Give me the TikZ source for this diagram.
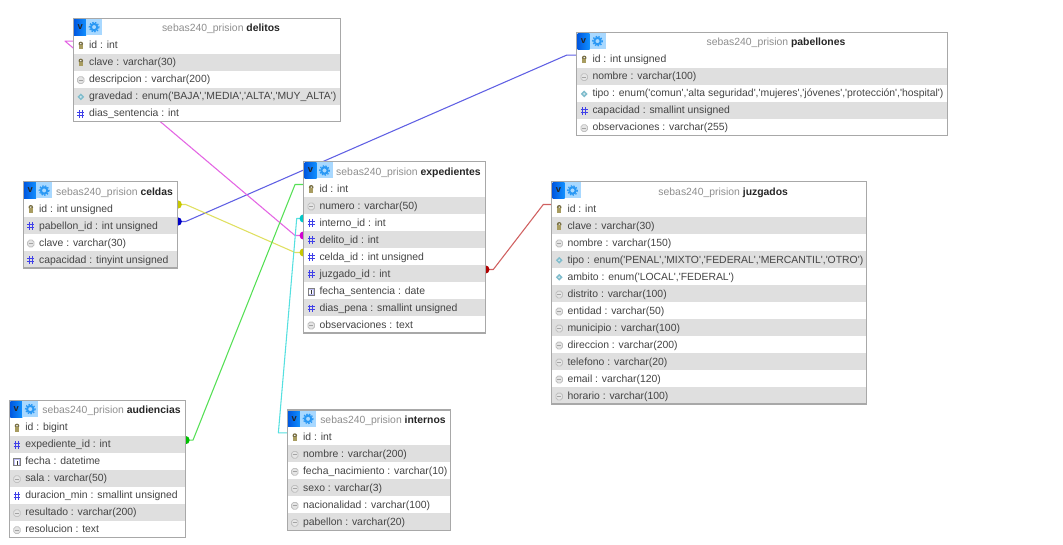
\documentclass[tikz,border=0pt]{standalone}
\usepackage{fontspec}
\newfontfamily\dbfont{Liberation Sans}
\pgfdeclarelayer{bg}
\pgfsetlayers{bg,main}
\definecolor{rowgray}{HTML}{DFDFDF}
\definecolor{boxgray}{HTML}{A8A8A8}
\definecolor{titlegray}{HTML}{8E8E8E}
\definecolor{txt}{HTML}{444444}
\definecolor{keycol}{HTML}{A89C60}
\definecolor{enumcol}{HTML}{7FBCCC}
\definecolor{numcol}{HTML}{4040E8}
\definecolor{fieldcol}{HTML}{C0C0C0}
\definecolor{gearbg}{HTML}{A8D8FF}
\definecolor{gearfg}{HTML}{2A98F4}
\definecolor{vleft}{HTML}{0058E0}
\definecolor{vright}{HTML}{1090FF}
\definecolor{blueL}{HTML}{6060E4}\definecolor{blueD}{HTML}{0000C8}
\definecolor{yelL}{HTML}{E0E060}\definecolor{yelD}{HTML}{C8C800}
\definecolor{magL}{HTML}{E465E4}\definecolor{magD}{HTML}{D000D0}
\definecolor{greL}{HTML}{55E055}\definecolor{greD}{HTML}{00C000}
\definecolor{cyaL}{HTML}{55E0E0}\definecolor{cyaD}{HTML}{00C8C8}
\definecolor{redL}{HTML}{D06060}\definecolor{redD}{HTML}{B00000}
\tikzset{
  rowband/.style={rectangle,inner sep=0pt,outer sep=0pt,anchor=north west,minimum height=12.75pt},
  rowtext/.style={inner sep=0pt,outer sep=0pt,anchor=base west,text=txt,font=\dbfont\fontsize{7.8pt}{9pt}\selectfont},
  titletext/.style={inner sep=0pt,outer sep=0pt,anchor=base,text=titlegray,font=\dbfont\fontsize{7.8pt}{9pt}\selectfont},
  tablebox/.style={rectangle,inner sep=0pt,outer sep=0pt,anchor=north west,draw=boxgray,line width=0.8pt},
  vicon/.style={rectangle,inner sep=0pt,outer sep=0pt,anchor=north west,minimum width=9pt,minimum height=12pt,left color=vleft,right color=vright,text=black!85,font=\dbfont\bfseries\fontsize{7pt}{8pt}\selectfont},
  gearicon/.style={rectangle,inner sep=0pt,outer sep=0pt,anchor=north west,minimum width=12pt,minimum height=12pt,fill=gearbg},
  link/.style={line width=0.8pt,line join=round},
}
\newcount\rowno
\newcommand\dbhead[5]{%
  \gdef\dbN{#1}\gdef\dbL{#2}\gdef\dbT{#3}\gdef\dbR{#4}%
  \global\rowno=0
  \node[vicon] (#1-v) at (#2+0.8,#3+0.8) {v};
  \node[gearicon] (#1-gear) at (#2+12.8,#3+0.8) {};
  \draw[gearfg,line width=1.5pt] (#1-gear.center) circle (3.2);
  \draw[gearfg,line width=0.9pt,dash pattern=on 1.1pt off 1.1pt] (#1-gear.center) circle (4.9);
  \node[titletext] (#1-title) at ({(#2+28+#4)/2},#3+13.4) {sebas240\_prision \textcolor{black!85}{\bfseries #5}};
}
\newcommand\dbiconk{%
  \fill[keycol!70!black] (0,-2) circle (2.3);
  \fill[keycol] (-1.8,-1) rectangle (1.8,3.6);
  \fill[white] (0,-2.2) circle (0.8);
}
\newcommand\dbiconf{%
  \draw[fieldcol,fill=black!10,line width=0.6pt,rounded corners=1.4pt] (-3.2,-3.2) rectangle (3.2,3.6);
  \draw[fieldcol!85!black,line width=0.6pt] (-2,0.2) -- (2,0.2);
}
\newcommand\dbicone{%
  \fill[enumcol] (0,-3.4) -- (3.4,0) -- (0,3.4) -- (-3.4,0) -- cycle;
  \fill[enumcol!40!white] (0,0) circle (1.2);
}
\newcommand\dbiconn{%
  \draw[numcol,line width=0.75pt] (-1.6,-3.8) -- (-1.6,4) (1.6,-3.8) -- (1.6,4) (-3.4,-1.4) -- (3.4,-1.4) (-3.4,1.6) -- (3.4,1.6);
}
\newcommand\dbicond{%
  \draw[black!50,fill=numcol!35!white,line width=0.6pt] (-3.2,-3.2) rectangle (3.2,3.6);
  \fill[white] (-2.2,-1.6) rectangle (2.2,2.8);
  \fill[black!80] (-0.5,-1.2) rectangle (0.6,2.6);
}
\newcommand\dbrow[2]{%
  \global\advance\rowno by 1
  \pgfmathsetmacro\ry{\dbT+18.3+17*(\the\rowno-1)}%
  \pgfmathsetlengthmacro\bw{(\dbR-\dbL)*0.75pt}%
  \edef\rn{\dbN-\the\rowno}%
  \ifodd\rowno\def\rf{white}\else\def\rf{rowgray}\fi
  \node[rowband,fill=\rf,minimum width=\bw] (\rn) at (\dbL,\ry) {};
  \coordinate (\rn-l) at (\dbL,\ry+4.5);
  \coordinate (\rn-r) at (\dbR,\ry+4.5);
  \begin{scope}[shift={(\dbL+7.5,\ry+9.3)}]\csname dbicon#1\endcsname\end{scope}
  \node[rowtext] (\rn-t) at (\dbL+15.8,\ry+12.1) {#2};
}
\newcommand\dbend{%
  \pgfmathsetmacro\by{\dbT+18.3+17*\the\rowno}%
  \pgfmathsetlengthmacro\bw{(\dbR-\dbL)*0.75pt}%
  \pgfmathsetlengthmacro\bh{(\by-\dbT)*0.75pt}%
  \node[tablebox,minimum width=\bw,minimum height=\bh] (\dbN) at (\dbL,\dbT) {};
}
\begin{document}
\begin{tikzpicture}[x=0.75pt,y=-0.75pt]
\useasboundingbox (0,0) rectangle (1063,545);
\begin{pgfonlayer}{bg}
\fill[white] (0,0) rectangle (1063,545);
\end{pgfonlayer}

\dbhead{delitos}{73.3}{18.3}{340.7}{delitos}
\dbrow{k}{id : int}
\dbrow{k}{clave : varchar(30)}
\dbrow{f}{descripcion : varchar(200)}
\dbrow{e}{gravedad : enum('BAJA','MEDIA','ALTA','MUY\_ALTA')}
\dbrow{n}{dias\_sentencia : int}
\dbend

\dbhead{pabellones}{576.7}{32.3}{947.3}{pabellones}
\dbrow{k}{id : int unsigned}
\dbrow{f}{nombre : varchar(100)}
\dbrow{e}{tipo : enum('comun','alta seguridad','mujeres','jóvenes','protección','hospital')}
\dbrow{n}{capacidad : smallint unsigned}
\dbrow{f}{observaciones : varchar(255)}
\dbend

\dbhead{celdas}{23.3}{181.7}{177.7}{celdas}
\dbrow{k}{id : int unsigned}
\dbrow{n}{pabellon\_id : int unsigned}
\dbrow{f}{clave : varchar(30)}
\dbrow{n}{capacidad : tinyint unsigned}
\dbend

\dbhead{expedientes}{303.7}{161.7}{485.3}{expedientes}
\dbrow{k}{id : int}
\dbrow{f}{numero : varchar(50)}
\dbrow{n}{interno\_id : int}
\dbrow{n}{delito\_id : int}
\dbrow{n}{celda\_id : int unsigned}
\dbrow{n}{juzgado\_id : int}
\dbrow{d}{fecha\_sentencia : date}
\dbrow{n}{dias\_pena : smallint unsigned}
\dbrow{f}{observaciones : text}
\dbend

\dbhead{juzgados}{551.7}{181.7}{866.7}{juzgados}
\dbrow{k}{id : int}
\dbrow{k}{clave : varchar(30)}
\dbrow{f}{nombre : varchar(150)}
\dbrow{e}{tipo : enum('PENAL','MIXTO','FEDERAL','MERCANTIL','OTRO')}
\dbrow{e}{ambito : enum('LOCAL','FEDERAL')}
\dbrow{f}{distrito : varchar(100)}
\dbrow{f}{entidad : varchar(50)}
\dbrow{f}{municipio : varchar(100)}
\dbrow{f}{direccion : varchar(200)}
\dbrow{f}{telefono : varchar(20)}
\dbrow{f}{email : varchar(120)}
\dbrow{f}{horario : varchar(100)}
\dbend

\dbhead{audiencias}{9.5}{400.3}{185.5}{audiencias}
\dbrow{k}{id : bigint}
\dbrow{n}{expediente\_id : int}
\dbrow{d}{fecha : datetime}
\dbrow{f}{sala : varchar(50)}
\dbrow{n}{duracion\_min : smallint unsigned}
\dbrow{f}{resultado : varchar(200)}
\dbrow{f}{resolucion : text}
\dbend

\dbhead{internos}{287.3}{410}{450.7}{internos}
\dbrow{k}{id : int}
\dbrow{f}{nombre : varchar(200)}
\dbrow{f}{fecha\_nacimiento : varchar(10)}
\dbrow{f}{sexo : varchar(3)}
\dbrow{f}{nacionalidad : varchar(100)}
\dbrow{f}{pabellon : varchar(20)}
\dbend

\begin{pgfonlayer}{bg}
\draw[link,blueL] (celdas-2-r) -- ++(8,0) -- ([xshift=-7.5pt]pabellones-1-l) -- (pabellones-1-l);
\fill[blueD] (celdas-2-r) circle (4.2);
\draw[link,yelL] (celdas-1-r) -- ++(8,0) -- ([xshift=-6.5pt]expedientes-5-l) -- (expedientes-5-l);
\fill[yelD] (celdas-1-r) circle (4.2);
\fill[yelD] (expedientes-5-l) circle (4.2);
\draw[link,magL] (delitos-1-l) -- ++(-8.3,0) -- ([xshift=-6.5pt]expedientes-4-l) -- (expedientes-4-l);
\fill[magD] (expedientes-4-l) circle (4.2);
\draw[link,greL] (audiencias-2-r) -- ++(7.5,0) -- ([xshift=-6.5pt]expedientes-1-l) -- (expedientes-1-l);
\fill[greD] (audiencias-2-r) circle (4.2);
\draw[link,cyaL] (expedientes-3-l) -- ++(-7,0) -- ([xshift=-6.7pt]internos-1-l) -- (internos-1-l);
\fill[cyaD] (expedientes-3-l) circle (4.2);
\draw[link,redL] (expedientes-6-r) -- ++(8,0) -- ([xshift=-6.3pt]juzgados-1-l) -- (juzgados-1-l);
\fill[redD] (expedientes-6-r) circle (4.2);
\end{pgfonlayer}
\end{tikzpicture}
\end{document}
